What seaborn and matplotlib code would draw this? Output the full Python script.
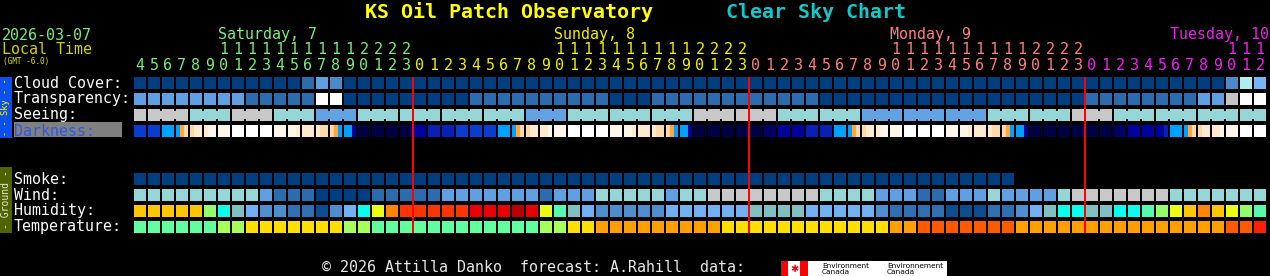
import matplotlib
matplotlib.use("Agg")
import numpy as np
import pandas as pd
import seaborn as sns
import matplotlib.pyplot as plt
import matplotlib.transforms as mtransforms
from matplotlib.colors import ListedColormap, BoundaryNorm
from matplotlib.patches import Rectangle

sns.set_theme(style="dark")
plt.rcParams['font.family'] = ['DejaVu Sans Mono', 'DejaVu Sans']

# ------------------------------------------------------------------ data
# hour of each forecast column: Sat 4..23, Sun 0..23, Mon 0..23, Tue 0..12
hours = list(range(4, 24)) + list(range(24)) + list(range(24)) + list(range(13))
day_names = ["Saturday, 7", "Sunday, 8", "Monday, 9", "Tuesday, 10"]
day_colors = ["#7cec7c", "#f0f000", "#ff8080", "#ee22ee"]

row_labels_sky = ["Cloud Cover:", "Transparency:", "Seeing:", "Darkness:"]
row_labels_ground = ["Smoke:", "Wind:", "Humidity:", "Temperature:"]

# cloud cover, percent
cloud_cover = [0, 0, 0, 0, 0, 0, 0, 0, 0, 0, 0, 0, 20, 40, 30, 0, 0, 0, 0, 0,
               0, 0, 0, 0, 0, 0, 0, 0, 0, 0, 0, 0, 0, 0, 0, 0, 0, 0, 0, 0, 0, 0, 0, 0,
               0, 0, 0, 0, 0, 0, 0, 0, 0, 0, 0, 0, 0, 0, 0, 0, 0, 0, 0, 0, 0, 0, 0, 0,
               0, 0, 0, 0, 0, 0, 0, 0, 0, 0, 30, 70, 50]
# transparency level: 0 transparent, 1 above avg, 2 average, 3 poor, 4 too cloudy
transparency = [2, 2, 2, 2, 2, 2, 2, 2, 1, 1, 1, 1, 1, 4, 4, 0, 0, 0, 0, 0,
                0, 0, 0, 0, 1, 1, 1, 1, 1, 1, 1, 1, 1, 1, 0, 0, 0, 1, 1, 1, 1, 1, 1, 1,
                1, 1, 1, 1, 1, 0, 0, 0, 0, 0, 0, 0, 0, 0, 0, 0, 0, 0, 0, 0, 0, 0, 0, 0,
                1, 1, 1, 1, 1, 1, 1, 1, 2, 2, 3, 4, 4]
# seeing level: 1 bad, 2 poor, 3 average (3-hour blocks)
seeing = [1, 1, 1, 1, 2, 2, 2, 1, 1, 1, 2, 2, 2, 3, 3, 3, 2, 2, 2, 2,
          2, 2, 2, 2, 2, 2, 2, 2, 3, 3, 3, 2, 2, 2, 2, 2, 2, 2, 2, 2, 1, 1, 1, 1,
          1, 1, 2, 2, 2, 2, 2, 2, 3, 3, 3, 3, 3, 3, 3, 3, 3, 2, 2, 2, 2, 2, 2, 1,
          1, 1, 2, 2, 2, 2, 2, 2, 2, 2, 2, 2, 2]
# darkness, three sub-steps per hour (W day ... N fully dark)
darkness = ["MMM", "MMM", "TTT", "TOQ", "QPP", "PCC", "CCC", "WWW", "WWW", "WWW",
            "CCC", "CCP", "PPP", "PQQ", "QOT", "TTD", "NNN", "NNN", "NNN", "NNN",
            "DDD", "mmm", "mmm", "MMM", "MMM", "MMM", "TTT", "TOQ", "QPP", "PPC",
            "CCC", "WWW", "WWW", "WWW", "CCC", "CCP", "PPP", "PQQ", "QOT", "TTD",
            "NNN", "NNN", "NNN", "NNN",
            "NNN", "nnn", "DDD", "DDD", "mmm", "mmm", "TTT", "TOQ", "QPP", "PCC",
            "CCC", "WWW", "WWW", "WWW", "CCC", "CCP", "PPP", "PQQ", "QOT", "TTD",
            "NNN", "NNN", "NNN", "NNN",
            "NNN", "NNN", "nnn", "DDD", "DDD", "DDm", "TTT", "TOQ", "QPP", "PPC",
            "CCC", "WWW", "WWW"]
# smoke (ug/m3); forecast ends after 63 hours
smoke = [0, 0, 0, 0, 0, 0, 0, 0, 0, 0, 0, 0, 0, 0, 0, 0, 0, 0, 0, 0,
         0, 0, 0, 0, 0, 0, 0, 0, 0, 0, 0, 0, 0, 0, 0, 0, 0, 0, 0, 0, 0, 0, 0, 0,
         0, 0, 0, 0, 0, 0, 0, 0, 0, 0, 0, 0, 0, 0, 0, 0, 0, 0, 0,
         np.nan, np.nan, np.nan, np.nan, np.nan,
         np.nan, np.nan, np.nan, np.nan, np.nan, np.nan, np.nan, np.nan, np.nan,
         np.nan, np.nan, np.nan, np.nan]
# wind, mph
wind = [22, 22, 22, 22, 22, 22, 22, 22, 22, 14, 8, 8, 8, 3, 3, 3, 3, 8, 8, 8,
        8, 8, 14, 14, 14, 14, 14, 14, 14, 8, 14, 14, 14, 22, 22, 22, 22, 22, 14, 22, 22, 35, 35, 35,
        35, 35, 35, 35, 35, 22, 22, 22, 22, 14, 14, 14, 8, 8, 14, 14, 14, 22, 14, 14, 14, 14, 22, 35,
        35, 35, 35, 35, 35, 35, 22, 22, 22, 22, 22, 22, 22]
# relative humidity, percent
humidity = [72, 72, 72, 72, 72, 62, 52, 47, 42, 37, 37, 32, 32, 27, 37, 42, 52, 67, 77, 82,
            82, 82, 82, 82, 87, 87, 87, 92, 87, 67, 57, 47, 42, 37, 37, 37, 37, 37, 42, 42, 42, 42, 42, 42,
            47, 47, 47, 47, 42, 42, 42, 42, 42, 37, 32, 32, 32, 32, 27, 27, 27, 32, 32, 37, 42, 47, 52, 52,
            47, 47, 52, 52, 57, 62, 67, 72, 77, 72, 67, 62, 57]
# temperature, deg F
temperature = [46, 46, 46, 46, 46, 46, 55, 55, 64, 64, 64, 64, 64, 64, 64, 55, 55, 46, 46, 46,
               46, 46, 46, 46, 46, 46, 46, 46, 46, 55, 55, 64, 64, 73, 73, 73, 73, 73, 73, 73, 73, 73, 64, 64,
               64, 64, 64, 64, 64, 64, 64, 64, 64, 64, 73, 73, 82, 82, 82, 82, 82, 82, 82, 73, 73, 73, 73, 73,
               73, 73, 73, 73, 73, 73, 73, 73, 73, 73, 82, 82, 88]

# ------------------------------------------------------------------ scales
cloud_cmap = ListedColormap(['#003F7F', '#135393', '#2C6CAC', '#4A8ACA', '#60A0E0', '#76B6F6',
                             '#9ADADA', '#AEEEEE', '#C2C2C2', '#EAEAEA', '#FBFBFB'])
cloud_norm = BoundaryNorm(np.arange(-5, 115, 10), 11)
transp_cmap = ListedColormap(['#003F7F', '#2C6CAC', '#60A0E0', '#C4C4C4', '#FFFFFF'])
transp_norm = BoundaryNorm(np.arange(-0.5, 5.5, 1), 5)
seeing_cmap = ListedColormap(['#FFFFFF', '#C8C8C8', '#96D6D6', '#63A3E3', '#2C6CAC', '#003F7F'])
seeing_norm = BoundaryNorm(np.arange(-0.5, 6.5, 1), 6)
dark_codes = "WCPQOTMmDnN"
dark_cmap = ListedColormap(['#FFFFFF', '#FFF6EA', '#FFEAD0', '#FFD9AA', '#FFA838', '#00A0FF',
                            '#0A3CD0', '#0820B8', '#0000A0', '#000066', '#000042'])
dark_norm = BoundaryNorm(np.arange(-0.5, len(dark_codes) + 0.5, 1), len(dark_codes))
smoke_cmap = ListedColormap(['#003F7F', '#2C6CAC', '#63A3E3', '#95D5D5', '#C7C7C7', '#F9F9F9'])
smoke_norm = BoundaryNorm([0, 2, 5, 10, 20, 40, 200], 6)
wind_cmap = ListedColormap(['#003F7F', '#2C6CAC', '#60A0E0', '#96D6D6', '#C8C8C8', '#F9F9F9'])
wind_norm = BoundaryNorm([0, 6, 12, 17, 29, 46, 100], 6)
hum_cmap = ListedColormap(['#0D4D8D', '#3070B0', '#4E8ECE', '#71B1F1', '#80C0C0', '#09FEED',
                           '#55FAAD', '#94FE6A', '#EAFB16', '#FEC600', '#FC8602', '#FE3401',
                           '#EA0000', '#B70000'])
hum_norm = BoundaryNorm(np.arange(25, 100, 5), 14)
temp_cmap = ListedColormap(['#62FFA0', '#A6FF5A', '#FFDE00', '#FFA000', '#FF5A00', '#FF2000'])
temp_norm = BoundaryNorm([41, 50, 59, 68, 77, 86, 95], 6)

# ------------------------------------------------------------------ layout
W, H = 1270, 276
fig = plt.figure(figsize=(W / 100, H / 100), dpi=100, facecolor='black')
pxT = mtransforms.Affine2D().scale(1 / W, -1 / H).translate(0, 1) + fig.transFigure

NC = len(hours)
GX0, CW = 133, 14
GW = CW * NC
LW = 2 * 72 / 100  # 2 px

def row_axes(top, h):
    return fig.add_axes([GX0 / W, 1 - (top + h) / H, GW / W, h / H])

def draw_row(values, top, cmap, norm, gaps=True, h=12):
    if gaps:
        ax = row_axes(top - 1, h + 2)
    else:
        ax = row_axes(top, h)
    df = pd.DataFrame([values])
    sns.heatmap(df, ax=ax, cmap=cmap, norm=norm, cbar=False,
                linewidths=LW if gaps else 0, linecolor='black',
                xticklabels=False, yticklabels=False)
    ax.set_axis_off()
    return ax

sky_tops = [77, 93, 109, 125]
gnd_tops = [173, 189, 205, 221]

draw_row(cloud_cover, sky_tops[0], cloud_cmap, cloud_norm)
draw_row(transparency, sky_tops[1], transp_cmap, transp_norm)
draw_row(seeing, sky_tops[2], seeing_cmap, seeing_norm)
# connectors inside each 3-hour seeing block
axc = draw_row(seeing, sky_tops[2] + 2, seeing_cmap, seeing_norm, gaps=False, h=8)
block_edges = [0, NC] + [i for i, hh in enumerate(hours) if hh % 3 == 2]
for b in block_edges:
    axc.axvline(b, color='black', lw=LW)
# darkness at sub-hour resolution
dark_sub = [dark_codes.index(c) for cell in darkness for c in cell]
axd = draw_row(dark_sub, sky_tops[3], dark_cmap, dark_norm, gaps=False, h=12)
nsub = len(darkness[0])
for k in range(NC + 1):
    axd.axvline(k * nsub, color='black', lw=LW)

draw_row(smoke, gnd_tops[0], smoke_cmap, smoke_norm)
draw_row(wind, gnd_tops[1], wind_cmap, wind_norm)
draw_row(humidity, gnd_tops[2], hum_cmap, hum_norm)
draw_row(temperature, gnd_tops[3], temp_cmap, temp_norm)

# overlay: midnight lines + hour labels
axo = row_axes(77, 156)
axo.set_xlim(0, NC)
axo.set_ylim(0, 1)
axo.set_axis_off()
day_idx = np.cumsum([1 if (i > 0 and hh == 0) else 0 for i, hh in enumerate(hours)])
for i, hh in enumerate(hours):
    if hh == 0 and i > 0:
        axo.axvline(i, color='#ff0000', lw=LW)

FS = 10.8
bt = mtransforms.blended_transform_factory(axo.transData, pxT)
for i, hh in enumerate(hours):
    col = day_colors[day_idx[i]]
    axo.text(i + 0.5, 65, str(hh % 10), transform=bt, ha='center', va='center',
             color=col, fontsize=FS)
    if hh >= 10:
        axo.text(i + 0.5, 50, str(hh // 10), transform=bt, ha='center', va='center',
                 color=col, fontsize=FS)
for d, name in enumerate(day_names):
    cols = [i for i in range(NC) if day_idx[i] == d and hours[i] == 10]
    if not cols:
        continue
    xpx = GX0 + CW * cols[0] + 1
    if xpx + len(name) * 9 > W:
        fig.text(W - 1, 35, name, transform=pxT, ha='right', va='center',
                 color=day_colors[d], fontsize=FS)
    else:
        fig.text(xpx, 35, name, transform=pxT, ha='left', va='center',
                 color=day_colors[d], fontsize=FS)

# titles and header
fig.text(365, 12, "KS Oil Patch Observatory", transform=pxT, ha='left', va='center',
         color='#ffff00', fontsize=14.4, fontweight='bold')
fig.text(726, 12, "Clear Sky Chart", transform=pxT, ha='left', va='center',
         color='#14c8c8', fontsize=14.4, fontweight='bold')
fig.text(2, 35, "2026-03-07", transform=pxT, ha='left', va='center', color='#7cec7c', fontsize=FS)
fig.text(2, 50, "Local Time", transform=pxT, ha='left', va='center', color='#d0d000', fontsize=FS)
fig.text(3, 61.5, "(GMT -6.0)", transform=pxT, ha='left', va='center', color='#e0e000', fontsize=5.5)

# row labels
fig.add_artist(Rectangle((14, 122), 108, 15, transform=pxT, facecolor='#808080', edgecolor='none'))
for lab, top in zip(row_labels_sky, sky_tops):
    color = '#2a5ae6' if lab == "Darkness:" else 'white'
    fig.text(14, top + 6, lab, transform=pxT, ha='left', va='center', color=color, fontsize=FS)
for lab, top in zip(row_labels_ground, gnd_tops):
    fig.text(14, top + 6, lab, transform=pxT, ha='left', va='center', color='white', fontsize=FS)

# side bars
fig.add_artist(Rectangle((0, 77), 12, 61, transform=pxT, facecolor='#0a50f0', edgecolor='none'))
fig.text(6, 107.5, "- - Sky - -", transform=pxT, ha='center', va='center', rotation=90,
         color='#ffff00', fontsize=6.2)
fig.add_artist(Rectangle((0, 167), 12, 66, transform=pxT, facecolor='#4f6400', edgecolor='none'))
fig.text(6.5, 200, "- Ground -", transform=pxT, ha='center', va='center', rotation=90,
         color='#e6e6cc', fontsize=7)

# footer
fig.text(322, 268, "\u00a9 2026 Attilla Danko  forecast: A.Rahill  data:", transform=pxT,
         ha='left', va='center', color='#e8e8e8', fontsize=FS)
fig.add_artist(Rectangle((781, 261), 166, 15, transform=pxT, facecolor='white', edgecolor='none'))
fig.add_artist(Rectangle((781, 261), 7, 15, transform=pxT, facecolor='#ff0000', edgecolor='none'))
fig.add_artist(Rectangle((800, 261), 8, 15, transform=pxT, facecolor='#ff0000', edgecolor='none'))
fig.text(794, 268.5, "\u2731", transform=pxT, ha='center', va='center', color='#ff0000',
         fontsize=7, family='DejaVu Sans')
for xx, word in [(822, "Environment"), (887, "Environnement")]:
    fig.text(xx, 265.5, word, transform=pxT, ha='left', va='center', color='black',
             fontsize=5.3, family='DejaVu Sans')
    fig.text(xx, 272.5, "Canada", transform=pxT, ha='left', va='center', color='black',
             fontsize=5.3, family='DejaVu Sans')

fig.savefig("out.png", dpi=100, facecolor='black')
